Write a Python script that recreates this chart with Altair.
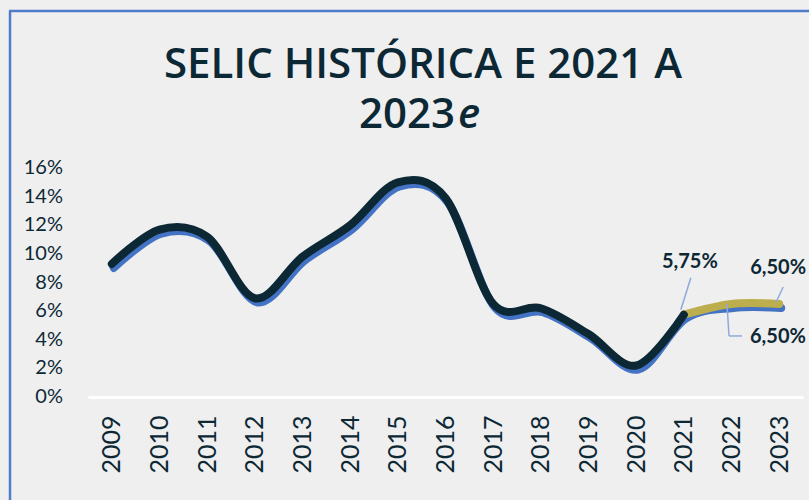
import altair as alt
import pandas as pd

# ---- data ----
years = list(range(2009, 2024))
hist_years = list(range(2009, 2022))
selic_hist = [9.3, 11.7, 11.2, 6.9, 9.8, 12.0, 15.0, 13.9, 6.5, 6.2, 4.4, 2.2, 5.75]
est_years = [2021, 2022, 2023]
selic_est = [5.75, 6.5, 6.5]
y_ticks = [0, 2, 4, 6, 8, 10, 12, 14, 16]
title_line1 = "SELIC HISTÓRICA E 2021 A"
title_line2 = "2023"
title_suffix = "e"

DARK = "#0c2835"
BLUE = "#4472c4"
GOLD = "#bcae4c"
LEAD = "#8eaadc"
FONT = "Lato"
TFONT = "Open Sans"

full_vals = selic_hist[:-1] + selic_est
df_full = pd.DataFrame({"ano": years, "selic": full_vals})
df_hist = pd.DataFrame({"ano": hist_years, "selic": selic_hist})
df_est = pd.DataFrame({"ano": est_years, "selic": selic_est})
df_yt = pd.DataFrame({"selic": y_ticks, "t": [f"{v}%" for v in y_ticks]})


def fmt(v):
    return f"{v:.2f}".replace(".", ",") + "%"


x_enc = alt.X(
    "ano:Q",
    scale=alt.Scale(domain=[2008.5, 2023.5], nice=False, zero=False),
    axis=alt.Axis(
        values=years, format="d", labelAngle=270, ticks=False, grid=False,
        domainColor="white", domainWidth=3, labelPadding=18,
        labelFontSize=25, labelColor=DARK, labelFont=FONT, title=None,
        labelOverlap=False,
    ),
)
y_enc = alt.Y(
    "selic:Q",
    scale=alt.Scale(domain=[0, 16], nice=False),
    axis=None,
)

INTERP = "cardinal"

base_full = alt.Chart(df_full)
blue_line = base_full.mark_line(
    color=BLUE, strokeWidth=8, interpolate=INTERP, strokeCap="round",
    xOffset=2, yOffset=4,
).encode(x=x_enc, y=y_enc)

gold_line = alt.Chart(df_est).mark_line(
    color=GOLD, strokeWidth=8, interpolate=INTERP, strokeCap="round",
).encode(x="ano:Q", y="selic:Q")

dark_line = alt.Chart(df_hist).mark_line(
    color=DARK, strokeWidth=8, interpolate=INTERP, strokeCap="round",
).encode(x="ano:Q", y="selic:Q")

# y-axis labels placed through the y scale
y_labels = alt.Chart(df_yt).mark_text(
    align="right", baseline="middle", font=FONT, fontSize=20, color=DARK,
).encode(x=alt.value(-25), y="selic:Q", text="t:N")

# annotations anchored to data points
df_a1 = pd.DataFrame({"ano": [hist_years[-1]], "selic": [selic_hist[-1]], "t": [fmt(selic_hist[-1])]})
df_a2 = pd.DataFrame({"ano": [est_years[-1]], "selic": [selic_est[-1]], "t": [fmt(selic_est[-1])]})
df_a3 = pd.DataFrame({"ano": [years[-2]], "selic": [full_vals[-2]], "t": [fmt(full_vals[-2])]})

pt = dict(x="ano:Q", y="selic:Q", x2="ano:Q", y2="selic:Q")

lead1 = alt.Chart(df_a1).mark_rule(color=LEAD, strokeWidth=1.5, xOffset=-3, yOffset=-5, x2Offset=7, y2Offset=-37).encode(**pt)
lead2 = alt.Chart(df_a2).mark_rule(color=LEAD, strokeWidth=1.5, xOffset=-3, yOffset=-2, x2Offset=4, y2Offset=-17).encode(**pt)
lead3a = alt.Chart(df_a3).mark_rule(color=LEAD, strokeWidth=1.5, xOffset=-4.5, yOffset=0, x2Offset=-2.5, y2Offset=32).encode(**pt)
lead3b = alt.Chart(df_a3).mark_rule(color=LEAD, strokeWidth=1.5, xOffset=-2.5, yOffset=32, x2Offset=10.5, y2Offset=32).encode(**pt)

txt_style = dict(font=FONT, fontSize=20, fontWeight="bold", color=DARK, baseline="middle")
text1 = alt.Chart(df_a1).mark_text(align="center", dx=6, dy=-53, **txt_style).encode(x="ano:Q", y="selic:Q", text="t:N")
text2 = alt.Chart(df_a2).mark_text(align="left", dx=-29, dy=-36, **txt_style).encode(x="ano:Q", y="selic:Q", text="t:N")
text3 = alt.Chart(df_a3).mark_text(align="left", dx=18.5, dy=33, **txt_style).encode(x="ano:Q", y="selic:Q", text="t:N")

# title drawn as text so the "e" can be italic
ttl_style = dict(font=TFONT, fontSize=42, fontWeight=600, color=DARK, baseline="alphabetic")
title1 = alt.Chart(df_a1).mark_text(align="center", **ttl_style).encode(
    x=alt.value(335), y=alt.value(-90), text=alt.value(title_line1))
title2 = alt.Chart(df_a1).mark_text(align="right", **ttl_style).encode(
    x=alt.value(367), y=alt.value(-40), text=alt.value(title_line2))
title3 = alt.Chart(df_a1).mark_text(align="left", fontStyle="italic", **ttl_style).encode(
    x=alt.value(370), y=alt.value(-40), text=alt.value(title_suffix))

# frame border
border_left = alt.Chart(df_a1).mark_rule(color="#4f7ccb", strokeWidth=2.5).encode(
    x=alt.value(-78), y=alt.value(-157), y2=alt.value(340))
border_top = alt.Chart(df_a1).mark_rule(color="#4f7ccb", strokeWidth=2.5).encode(
    x=alt.value(-79), x2=alt.value(730), y=alt.value(-157))

chart = alt.layer(
    blue_line, gold_line, dark_line, y_labels,
    lead1, lead2, lead3a, lead3b, text1, text2, text3,
    title1, title2, title3,
    border_left, border_top,
).properties(
    width=715, height=229,
    autosize=alt.AutoSizeParams(type="none"),
    padding={"left": 88, "top": 168, "right": 6, "bottom": 103},
).configure(background="#efefef").configure_view(stroke=None)

chart.save("out.html", embed_options={"renderer": "svg", "actions": False})
